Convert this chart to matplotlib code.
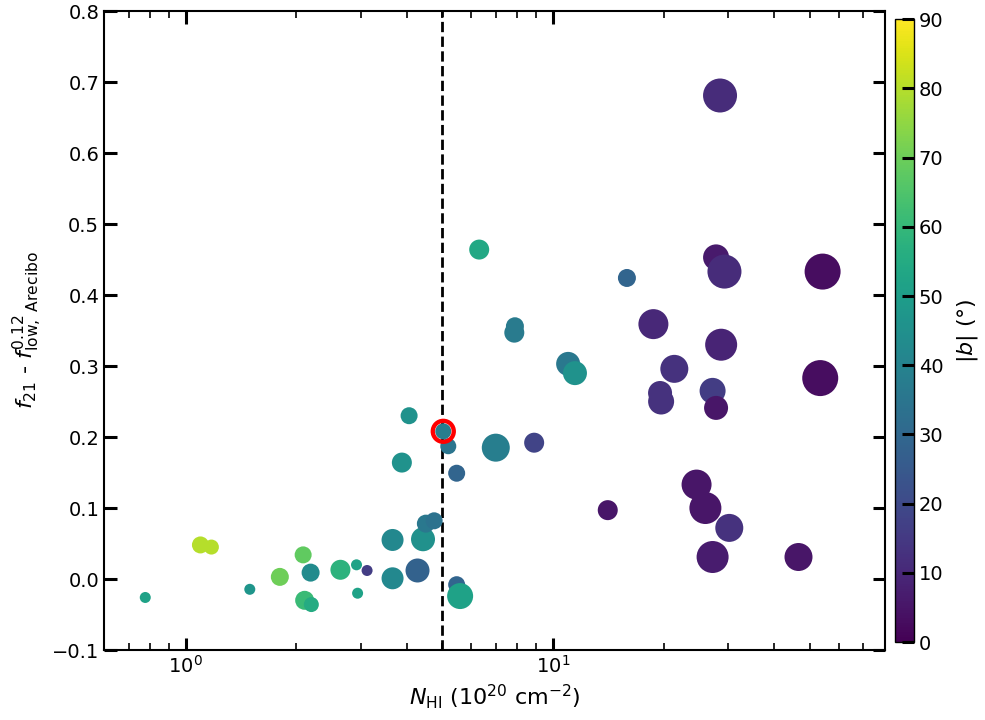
import numpy as np
import matplotlib
matplotlib.use("Agg")
import matplotlib.pyplot as plt
from matplotlib.ticker import LogLocator, MultipleLocator

# ---- data ----
n_hi = [0.777, 1.098, 1.176, 1.496, 1.806, 2.09, 2.19, 2.11, 2.20, 2.64,
        2.92, 2.94, 3.12, 3.66, 3.66, 4.06, 3.88, 4.28, 4.43, 4.51,
        4.75, 5.03, 5.19, 5.47, 5.47, 5.59, 6.99, 6.30, 15.9, 7.88,
        7.85, 11.0, 11.48, 8.89, 14.1, 18.77, 28.5, 27.8, 29.3, 54.2,
        28.7, 53.4, 21.4, 19.57, 19.7, 27.2, 27.8, 24.6, 26.0, 30.2,
        27.2, 46.6]
delta_f = [-0.026, 0.048, 0.045, -0.0145, 0.003, 0.034, 0.009, -0.030, -0.036, 0.013,
           0.020, -0.020, 0.012, 0.001, 0.055, 0.230, 0.164, 0.012, 0.056, 0.078,
           0.082, 0.208, 0.187, 0.149, -0.008, -0.024, 0.185, 0.464, 0.424, 0.356,
           0.347, 0.303, 0.290, 0.192, 0.097, 0.359, 0.681, 0.453, 0.433, 0.433,
           0.330, 0.283, 0.296, 0.262, 0.250, 0.265, 0.241, 0.133, 0.100, 0.072,
           0.031, 0.031]
abs_b = [52, 80, 80, 47, 70, 68, 43, 61, 55, 58,
         52, 52, 16, 42, 42, 46, 46, 28, 45, 36,
         34, 38, 35, 29, 29, 52, 38, 54, 29, 37,
         37, 36, 46, 18, 5, 10, 11, 6, 11, 3,
         9, 3, 13, 13, 13, 16, 5, 5, 5, 13,
         7, 5]
marker_radius = [5.5, 8.5, 7.5, 5.5, 9, 8.5, 9, 9.5, 7.5, 10,
                 5.5, 5.5, 5.5, 11, 11, 8.5, 10, 12, 12, 9,
                 8.5, 8, 8, 8.5, 8.5, 13, 14, 10, 9, 9,
                 10, 12, 12, 10, 10, 15, 17, 13, 17, 18,
                 16, 18, 14, 12, 13, 13, 12, 15, 16, 14,
                 16, 14]
highlight_x = [5.03]
highlight_y = [0.208]
n_hi_cut = 5.0

x = np.array(n_hi)
y = np.array(delta_f)
c = np.array(abs_b)
s = (1.44 * np.array(marker_radius)) ** 2

fig = plt.figure(figsize=(9.85, 7.2), dpi=100)
ax = fig.add_axes([0.1056, 0.0972, 0.7926, 0.8875])
cax = fig.add_axes([0.9086, 0.1083, 0.0193, 0.865])

sc = ax.scatter(x, y, c=c, s=s, cmap="viridis", vmin=0, vmax=90, linewidths=0, zorder=2)
ax.scatter(highlight_x, highlight_y, s=(1.44 * 10.5) ** 2, facecolors="none",
           edgecolors="red", linewidths=3.1, zorder=3)
ax.axvline(n_hi_cut, color="black", ls="--", lw=2, zorder=1)

ax.set_xscale("log")
ax.set_xlim(0.6, 80)
ax.set_ylim(-0.1, 0.8)
ax.yaxis.set_major_locator(MultipleLocator(0.1))
ax.xaxis.set_major_locator(LogLocator(base=10, numticks=10))
ax.xaxis.set_minor_locator(LogLocator(base=10, subs=np.arange(2, 10), numticks=20))

ax.tick_params(which="major", direction="in", length=9, width=2.2, top=True, right=True, labelsize=14)
ax.tick_params(which="minor", direction="in", length=5, width=1.2, top=True, right=True)
for sp in ax.spines.values():
    sp.set_linewidth(1.5)

ax.set_xlabel(r"$N_{\rm HI}$ ($10^{20}$ cm$^{-2}$)", fontsize=16)
ax.set_ylabel(r"$f_{21}$ - $f^{0.12}_{\rm low,\ Arecibo}$", fontsize=16, labelpad=6)

cb = fig.colorbar(sc, cax=cax)
cb.set_ticks(np.arange(0, 91, 10))
cb.ax.tick_params(direction="in", length=9, width=2.2, labelsize=14)
cb.set_label(r"$|b|$ (°)", fontsize=16, labelpad=8)
cb.outline.set_linewidth(1.0)

fig.savefig("out.png", dpi=100)
